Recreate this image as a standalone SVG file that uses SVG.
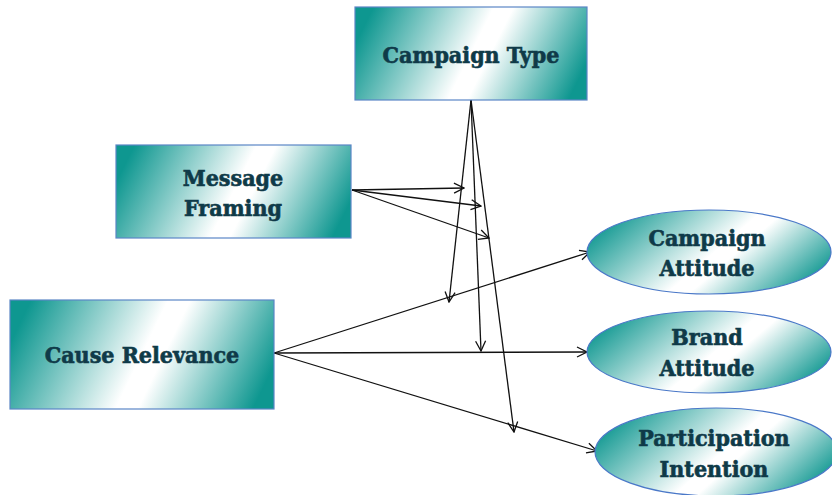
<svg xmlns="http://www.w3.org/2000/svg" width="832" height="495" viewBox="0 0 832 495">
  <defs>
    <linearGradient id="boxFill" x1="0" y1="0.4" x2="1" y2="0.6">
      <stop offset="0" stop-color="#0e9790"/>
      <stop offset="0.5" stop-color="#ffffff"/>
      <stop offset="0.58" stop-color="#ffffff"/>
      <stop offset="1" stop-color="#0e9790"/>
    </linearGradient>
    <linearGradient id="ovalFill" x1="0" y1="0.3" x2="1" y2="0.7">
      <stop offset="0" stop-color="#0e9790"/>
      <stop offset="0.52" stop-color="#ffffff"/>
      <stop offset="0.6" stop-color="#ffffff"/>
      <stop offset="1" stop-color="#0e9790"/>
    </linearGradient>
    <marker id="arrow" viewBox="0 0 12 12" refX="11" refY="6" markerWidth="12" markerHeight="12" markerUnits="userSpaceOnUse" orient="auto">
      <path d="M1,1 L11,6 L1,11" fill="none" stroke="#111" stroke-width="1.3"/>
    </marker>
  </defs>
  <style>
    .box { fill: url(#boxFill); stroke: #5b86c6; stroke-width: 1.2; }
    .oval { fill: url(#ovalFill); stroke: #4a78c8; stroke-width: 1.2; }
    .label { font-family: "DejaVu Serif Condensed", "DejaVu Serif", serif; font-weight: bold; font-size: 23px; fill: #0f3a48; stroke: #0f3a48; stroke-width: 0.6; text-anchor: middle; }
    .link { stroke: #111; stroke-width: 1.3; fill: none; marker-end: url(#arrow); }
  </style>
  <rect width="832" height="495" fill="#ffffff"/>

  <g id="links">
    <line class="link" x1="471" y1="100" x2="449" y2="302"/>
    <line class="link" x1="471" y1="100" x2="481" y2="351"/>
    <line class="link" x1="471" y1="100" x2="514" y2="432"/>
    <line class="link" x1="352" y1="190" x2="464" y2="188"/>
    <line class="link" x1="352" y1="190" x2="481" y2="206"/>
    <line class="link" x1="352" y1="190" x2="489" y2="238"/>
    <line class="link" x1="274" y1="353" x2="590" y2="252"/>
    <line class="link" x1="274" y1="353" x2="587" y2="352"/>
    <line class="link" x1="274" y1="353" x2="597" y2="451"/>
  </g>

  <g id="campaign-type">
    <rect class="box" x="355" y="7" width="232" height="93"/>
    <text class="label" x="471" y="63">Campaign Type</text>
  </g>
  <g id="message-framing">
    <rect class="box" x="116" y="145" width="235" height="93"/>
    <text class="label" x="233" y="186">Message</text>
    <text class="label" x="233" y="216">Framing</text>
  </g>
  <g id="cause-relevance">
    <rect class="box" x="10" y="300" width="264" height="109"/>
    <text class="label" x="142" y="363">Cause Relevance</text>
  </g>
  <g id="campaign-attitude">
    <ellipse class="oval" cx="709" cy="252" rx="122" ry="42"/>
    <text class="label" x="707" y="246">Campaign</text>
    <text class="label" x="707" y="276">Attitude</text>
  </g>
  <g id="brand-attitude">
    <ellipse class="oval" cx="709" cy="352" rx="122" ry="41"/>
    <text class="label" x="707" y="345">Brand</text>
    <text class="label" x="707" y="376">Attitude</text>
  </g>
  <g id="participation-intention">
    <ellipse class="oval" cx="716" cy="452" rx="121" ry="44"/>
    <text class="label" x="714" y="446">Participation</text>
    <text class="label" x="714" y="477">Intention</text>
  </g>
</svg>
